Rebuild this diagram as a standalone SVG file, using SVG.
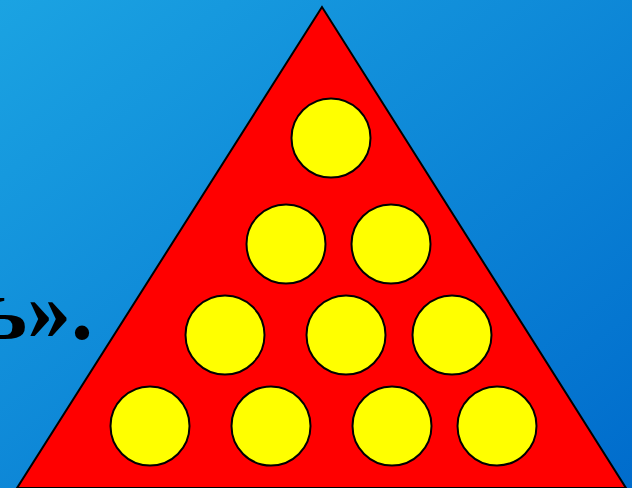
<svg xmlns="http://www.w3.org/2000/svg" width="632" height="488" viewBox="0 0 632 488">
<defs>
<linearGradient id="bg" x1="0" y1="0" x2="1" y2="1">
<stop offset="0" stop-color="#1ba3e2"/>
<stop offset="1" stop-color="#006ccc"/>
</linearGradient>
<style>
.ball{fill:#ffff00;stroke:#000;stroke-width:2}
.txt{font-family:"Liberation Serif",serif;font-weight:bold;font-size:88px;fill:#000}
</style>
</defs>
<rect width="632" height="488" fill="url(#bg)"/>
<text class="txt" x="93" y="339" text-anchor="end">ь».</text>
<g id="triangle"><polygon points="322,7 17,488 626,488" fill="#ff0000" stroke="#000" stroke-width="2"/></g>
<g id="balls">
<circle id="b1" class="ball" cx="331" cy="138" r="39.5"/>
<circle id="b2" class="ball" cx="286" cy="244" r="39.5"/>
<circle id="b3" class="ball" cx="391" cy="244" r="39.5"/>
<circle id="b4" class="ball" cx="225" cy="335" r="39.5"/>
<circle id="b5" class="ball" cx="346" cy="335" r="39.5"/>
<circle id="b6" class="ball" cx="452" cy="335" r="39.5"/>
<circle id="b7" class="ball" cx="150" cy="426" r="39.5"/>
<circle id="b8" class="ball" cx="271" cy="426" r="39.5"/>
<circle id="b9" class="ball" cx="392" cy="426" r="39.5"/>
<circle id="b10" class="ball" cx="497" cy="426" r="39.5"/>
</g>
</svg>
